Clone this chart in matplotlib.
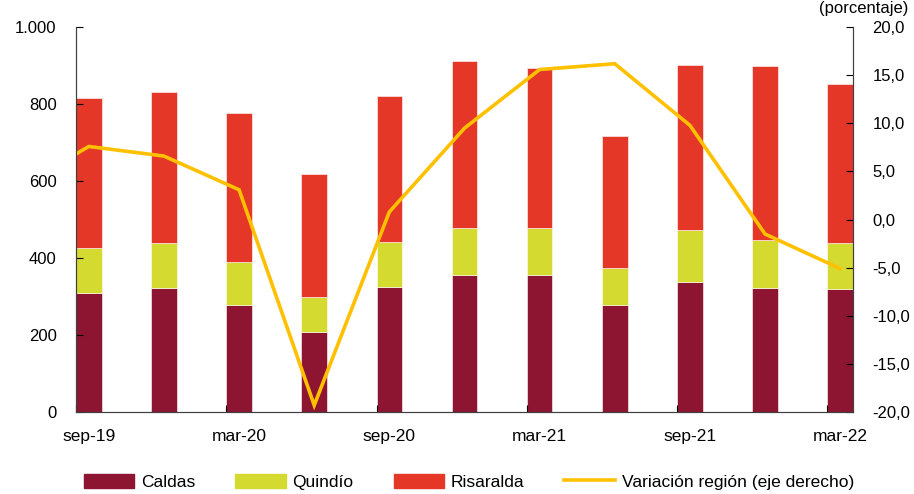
import numpy as np
import matplotlib
matplotlib.use("Agg")
import matplotlib.pyplot as plt
from matplotlib.lines import Line2D
from matplotlib.patches import Patch

plt.rcParams['font.family'] = ['Liberation Sans', 'DejaVu Sans']

periodos = ['sep-19', 'dic-19', 'mar-20', 'jun-20', 'sep-20', 'dic-20',
            'mar-21', 'jun-21', 'sep-21', 'dic-21', 'mar-22']
caldas = [308, 321, 279, 209, 325, 356, 356, 278, 338, 322, 319]
quindio = [117, 118, 110, 89, 117, 123, 123, 97, 134, 126, 120]
risaralda = [390, 393, 387, 320, 380, 433, 415, 343, 430, 451, 413]
# variación anual de la región; el primer valor (jun-19) queda fuera del eje
variacion = [3.0, 7.6, 6.6, 3.1, -19.3, 0.8, 9.5, 15.6, 16.2, 9.8, -1.5, -5.1]

c_caldas = '#8E1532'
c_quindio = '#D4DA30'
c_risaralda = '#E43727'
c_linea = '#FFC000'

w = 0.34
x = np.arange(len(periodos))

fig = plt.figure(figsize=(9.14, 4.94), dpi=100)
ax = fig.add_axes([0.0832, 0.166, 0.85, 0.779])

caldas = np.array(caldas)
quindio = np.array(quindio)
risaralda = np.array(risaralda)
ax.bar(x, caldas, w, color=c_caldas, edgecolor='white', linewidth=0.4)
ax.bar(x, quindio, w, bottom=caldas, color=c_quindio, edgecolor='white', linewidth=0.4)
ax.bar(x, risaralda, w, bottom=caldas + quindio, color=c_risaralda,
       edgecolor='white', linewidth=0.4)

ax.set_xlim(-w / 2, x[-1] + w / 2)
ax.set_ylim(0, 1000)
ax.set_yticks(range(0, 1001, 200))
ax.set_yticklabels(['0', '200', '400', '600', '800', '1.000'], fontsize=12)
ax.set_xticks(x[::2] - w / 2)
ax.set_xticklabels([])
ax.set_xticks(x[::2], minor=True)
ax.set_xticklabels(periodos[::2], minor=True, fontsize=12.5)
ax.tick_params(axis='x', which='minor', length=0, pad=12)
ax.tick_params(axis='x', which='major', direction='in', length=5)
ax.tick_params(axis='y', direction='in', length=5, pad=14)
ax.spines['top'].set_visible(False)
for s in ['left', 'bottom', 'right']:
    ax.spines[s].set_color('#404040')

ax2 = ax.twinx()
xl = np.arange(-1, len(periodos))
ax2.plot(xl, variacion, color=c_linea, linewidth=2.6, solid_joinstyle='miter')
ax2.set_ylim(-20, 20)
ax2.set_yticks(range(-20, 21, 5))
ax2.set_yticklabels([('%.1f' % v).replace('.', ',') for v in range(-20, 21, 5)],
                    fontsize=12)
ax2.tick_params(axis='y', direction='in', length=5, pad=14)
ax2.spines['top'].set_visible(False)
for s in ['left', 'bottom', 'right']:
    ax2.spines[s].set_color('#404040')
ax2.set_xlim(-w / 2, x[-1] + w / 2)

fig.text(0.945, 0.997, '(porcentaje)', ha='center', va='top', fontsize=12)

handles = [Patch(color=c_caldas), Patch(color=c_quindio), Patch(color=c_risaralda),
           Line2D([0], [0], color=c_linea, linewidth=2.6)]
labels = ['Caldas', 'Quindío', 'Risaralda', 'Variación región (eje derecho)']
fig.legend(handles, labels, loc='center', bbox_to_anchor=(0.513, 0.025), ncol=4,
           frameon=False, fontsize=12.5, handlelength=2.9, handleheight=0.9,
           columnspacing=2.3, handletextpad=0.4)

fig.savefig('out.png', dpi=100)
